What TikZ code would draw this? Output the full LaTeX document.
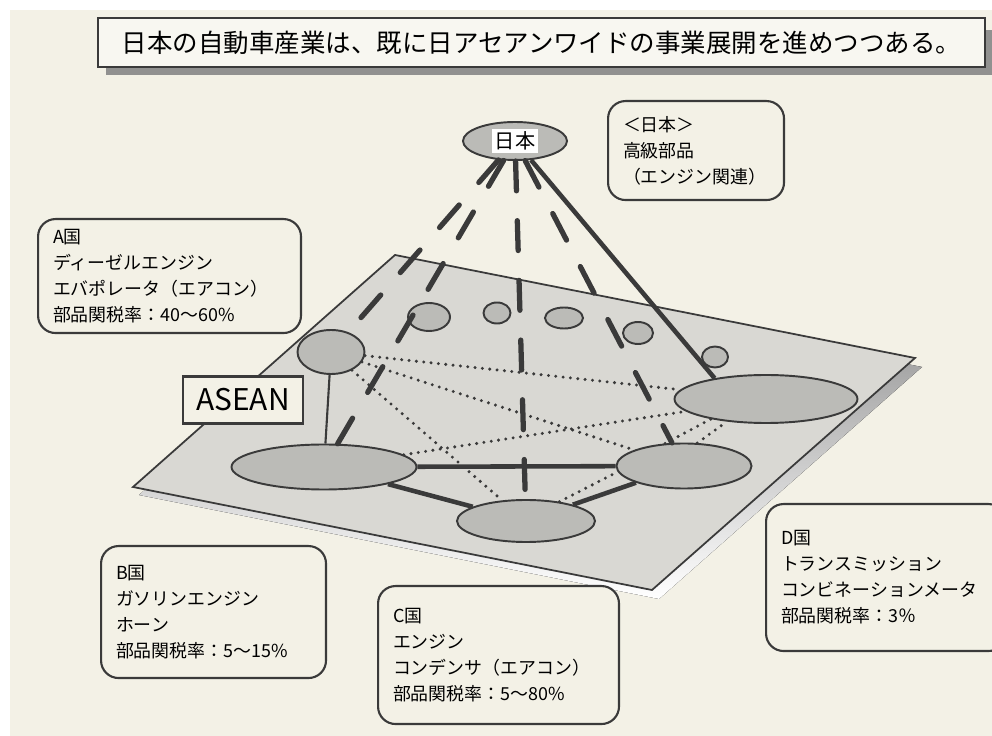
\documentclass[tikz,border=0pt]{standalone}
\usepackage{fontspec}
\setmainfont{Noto Sans CJK JP}
\usetikzlibrary{shapes.geometric}
\definecolor{paper}{HTML}{F3F1E6}
\definecolor{titlebg}{HTML}{F8F7F1}
\definecolor{plane}{HTML}{D9D8D3}
\definecolor{blob}{HTML}{BBBBB7}
\definecolor{ink}{HTML}{3A3A3A}
\definecolor{shade}{HTML}{767674}
\newcommand{\pxu}{0.02cm}
\tikzset{
  oval/.style={ellipse, draw=ink, line width=1.1pt, fill=blob, inner sep=0pt},
  infobox/.style={draw=ink, line width=1.2pt, fill=paper, rounded corners=0.35cm,
    anchor=north west, align=left, inner xsep=0.3cm,
    font=\fontsize{10.2pt}{14.8pt}\selectfont},
  heavydash/.style={draw=ink, line width=3pt, line cap=round, dash pattern=on 17pt off 17pt},
  heavyline/.style={draw=ink, line width=2.6pt},
  dotline/.style={draw=ink, line width=1.9pt, line cap=round, dash pattern=on 0pt off 4.2pt},
}
\begin{document}
\begin{tikzpicture}[x=0.02cm,y=-0.02cm]
  \useasboundingbox (0,0) rectangle (992,736);
  \clip (0,0) rectangle (992,736);
  \fill[white] (0,0) rectangle (992,736);
  \fill[paper] (10,10) rectangle (992,736);
  % heading
  \fill[shade!80] (106,30) rectangle (993,75);
  \node[draw=ink, line width=1.3pt, fill=titlebg, minimum width=887*\pxu, minimum height=49*\pxu,
    font=\fontsize{14.5pt}{16pt}\selectfont] (title) at (541.5,42.5)
    {日本の自動車産業は、既に日アセアンワイドの事業展開を進めつつある。};
  % the ASEAN plane
  \fill[shade] (401,263) -- (922,367) -- (659,599) -- (139,495) -- cycle;
  \draw[ink, line width=1pt, fill=plane] (395,255) -- (915,358) -- (652,590) -- (133,487) -- cycle;
  \node[oval, minimum width=67*\pxu, minimum height=44*\pxu] (elTop) at (331,352) {};
  \node[oval, minimum width=185*\pxu, minimum height=45*\pxu] (elLeft) at (324,467) {};
  \node[oval, minimum width=183*\pxu, minimum height=48*\pxu] (elRight) at (766,399) {};
  \node[oval, minimum width=135*\pxu, minimum height=45*\pxu] (elMid) at (684,466) {};
  \node[oval, minimum width=138*\pxu, minimum height=42*\pxu] (elBot) at (526,521) {};
  \foreach \x/\y/\w/\h [count=\i] in {429/317/42/28, 497/313/27/21, 564/318/38/21,
      638/333/30/22, 715/357/26/21}
    \node[oval, minimum width=\w*\pxu, minimum height=\h*\pxu] (sp\i) at (\x,\y) {};
  % links inside ASEAN
  \draw[dotline] (elTop) -- (elRight);
  \draw[dotline] (elTop) -- (elMid);
  \draw[dotline] (elTop) -- (elBot);
  \draw[dotline] (elLeft) -- (elRight);
  \draw[dotline] (elBot.30) -- (elMid.185);
  \draw[dotline] (elMid.130) -- (elRight.200);
  \draw[dotline] (elMid.60) -- (elRight.210);
  \draw[ink, line width=1.2pt] (elTop) -- (elLeft);
  \draw[heavyline] (elLeft) -- (elMid);
  \draw[heavyline] (elLeft) -- (elBot);
  \draw[heavyline] (elBot) -- (elMid);
  % Japan on top
  \node[oval, minimum width=104*\pxu, minimum height=38*\pxu] (jpn) at (515,141) {};
  \node[fill=white, inner sep=1.5pt, font=\fontsize{11.5pt}{12pt}\selectfont] (jpnlbl) at (jpn) {日本};
  \draw[heavydash] (jpn) -- (elTop);
  \draw[heavydash] (jpn) -- (elLeft);
  \draw[heavydash] (jpn) -- (elBot);
  \draw[heavydash] (jpn) -- (elMid);
  \draw[heavyline] (jpn) -- (elRight.158);
  % notes
  \node[infobox, text width=2.92cm, minimum height=1.98cm] (infoJ) at (607,100)
    {＜日本＞\\高級部品\\（エンジン関連）};
  \node[infobox, text width=4.66cm, minimum height=2.28cm] (infoA) at (37,218)
    {A国\\ディーゼルエンジン\\エバポレータ（エアコン）\\部品関税率：40～60\%};
  \node[infobox, text width=3.9cm, minimum height=2.64cm] (infoB) at (100,545)
    {B国\\ガソリンエンジン\\ホーン\\部品関税率：5～15\%};
  \node[infobox, text width=4.22cm, minimum height=2.76cm] (infoC) at (377,585)
    {C国\\エンジン\\コンデンサ（エアコン）\\部品関税率：5～80\%};
  \node[infobox, text width=4.2cm, minimum height=2.94cm] (infoD) at (765,503)
    {D国\\トランスミッション\\コンビネーションメータ\\部品関税率：3％\\[6pt]};
  \node[draw=ink, line width=1.2pt, fill=paper, minimum width=120*\pxu, minimum height=47*\pxu,
    font=\fontsize{17pt}{18pt}\selectfont] (asean) at (243,400) {ASEAN};
\end{tikzpicture}
\end{document}
